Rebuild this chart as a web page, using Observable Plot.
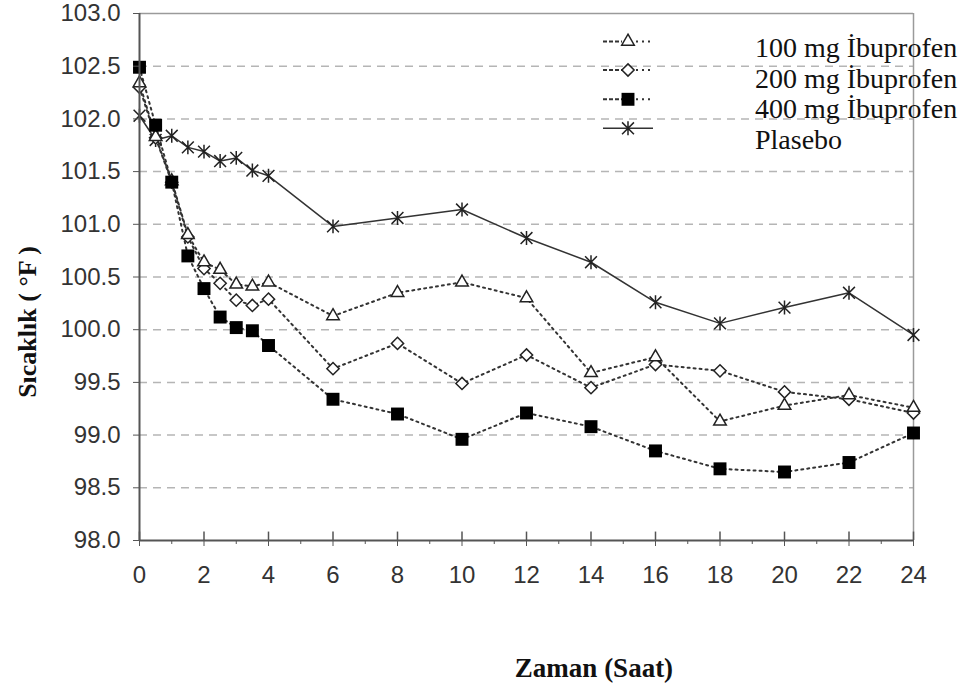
<!DOCTYPE html>
<html>
<head>
<meta charset="utf-8">
<script src="https://cdn.jsdelivr.net/npm/d3@7"></script>
<script src="https://cdn.jsdelivr.net/npm/@observablehq/plot@0.6"></script>
<style>
  body { margin: 0; background: #fff; }
  #wrap { position: relative; width: 967px; height: 691px; }
  #wrap svg.plot { display: block; }
  #legend-samples { position: absolute; left: 0; top: 0; }
  .legtext { position: absolute; left: 755px; font-family: "Liberation Serif", "Times New Roman", serif; font-size: 28px; color: #111; white-space: nowrap; line-height: 1; }
  .atitle { font-family: "Liberation Serif", "Times New Roman", serif; font-weight: bold; fill: #111; }
</style>
</head>
<body>
<div id="wrap"></div>
<script>
// ---- data ----
const hours = [0, 0.5, 1, 1.5, 2, 2.5, 3, 3.5, 4, 6, 8, 10, 12, 14, 16, 18, 20, 22, 24];
const seriesNames = ["100 mg İbuprofen", "200 mg İbuprofen", "400 mg İbuprofen", "Plasebo"];
const mg100 = [102.34, 101.83, 101.41, 100.90, 100.64, 100.57, 100.43, 100.41, 100.45, 100.13, 100.35, 100.45, 100.30, 99.59, 99.74, 99.13, 99.28, 99.38, 99.26];
const mg200 = [102.30, 101.82, 101.40, 100.88, 100.58, 100.44, 100.28, 100.23, 100.29, 99.63, 99.87, 99.49, 99.76, 99.45, 99.67, 99.61, 99.41, 99.34, 99.21];
const mg400 = [102.49, 101.94, 101.40, 100.70, 100.39, 100.12, 100.02, 99.99, 99.85, 99.34, 99.20, 98.96, 99.21, 99.08, 98.85, 98.68, 98.65, 98.74, 99.02];
const placebo = [102.03, 101.80, 101.84, 101.73, 101.69, 101.60, 101.63, 101.51, 101.46, 100.98, 101.06, 101.14, 100.87, 100.64, 100.26, 100.06, 100.21, 100.35, 99.95];
const yTicks = [98.0, 98.5, 99.0, 99.5, 100.0, 100.5, 101.0, 101.5, 102.0, 102.5, 103.0];
const xMajor = [0, 2, 4, 6, 8, 10, 12, 14, 16, 18, 20, 22, 24];
const xMinor = [1, 3, 5, 7, 9, 11, 13, 15, 17, 19, 21, 23];
const yTitle = "Sıcaklık ( °F )";
const xTitle = "Zaman (Saat)";

const toRows = (vals) => hours.map((h, i) => ({hour: h, temp: vals[i]}));
const d100 = toRows(mg100), d200 = toRows(mg200), d400 = toRows(mg400), dPl = toRows(placebo);

const ink = "#333";
const dotted = {stroke: ink, strokeWidth: 2, strokeDasharray: "2,4"};
const gridTicks = yTicks.filter(v => v > 98 && v < 103);

// star: vertical bar + X (as in the reference)
const starSymbol = {
  draw(ctx, size) {
    const r = Math.sqrt(size) * 0.56;
    const d = r * 0.85;
    ctx.moveTo(0, -r); ctx.lineTo(0, r);
    ctx.moveTo(-d, -d); ctx.lineTo(d, d);
    ctx.moveTo(-d, d); ctx.lineTo(d, -d);
  }
};

const chart = Plot.plot({
  width: 967,
  height: 691,
  marginLeft: 139,
  marginRight: 54,
  marginTop: 13,
  marginBottom: 151,
  style: {fontFamily: "'Liberation Sans', Arial, sans-serif", background: "#fff"},
  x: {domain: [0, 24], axis: null},
  y: {domain: [98, 103], axis: null},
  marks: [
    Plot.ruleY(gridTicks, {stroke: "#b5b5b5", strokeWidth: 1.5, strokeDasharray: "8,6"}),
    Plot.ruleY([103], {stroke: "#9a9a9a", strokeWidth: 1.5}),
    Plot.ruleX([24], {stroke: "#9a9a9a", strokeWidth: 1.5}),
    // lines
    Plot.line(dPl, {x: "hour", y: "temp", stroke: ink, strokeWidth: 1.5}),
    Plot.line(d100, {x: "hour", y: "temp", ...dotted}),
    Plot.line(d200, {x: "hour", y: "temp", ...dotted}),
    Plot.line(d400, {x: "hour", y: "temp", ...dotted}),
    // markers
    Plot.dot(dPl, {x: "hour", y: "temp", symbol: starSymbol, r: 7, stroke: "#222", strokeWidth: 1.5}),
    Plot.dot(d200, {x: "hour", y: "temp", symbol: "diamond2", r: 5.5, fill: "white", stroke: "#222", strokeWidth: 1.5}),
    Plot.dot(d100, {x: "hour", y: "temp", symbol: "triangle2", r: 6, fill: "white", stroke: "#222", strokeWidth: 1.5}),
    Plot.dot(d400, {x: "hour", y: "temp", symbol: "square", r: 7.3, fill: "#000", stroke: "none"}),
    // axes
    Plot.axisY(yTicks, {tickSize: 6, tickPadding: 13, fontSize: 24, tickFormat: d3.format(".1f"), label: null, stroke: "#555", fill: "#333"}),
    Plot.axisX(xMajor, {tickSize: 6, tickPadding: 19, fontSize: 24, label: null, stroke: "#555", fill: "#333"}),
    Plot.axisX(xMinor, {tickSize: 4, tickFormat: () => "", label: null, stroke: "#555"}),
    Plot.ruleX(xMajor, {x: d => d, y1: 98, y2: 98.08, stroke: "#555", strokeWidth: 1.5}),
    Plot.ruleX([0], {stroke: "#555", strokeWidth: 2}),
    Plot.ruleY([98], {stroke: "#555", strokeWidth: 2})
  ]
});
const wrap = document.getElementById("wrap");
wrap.appendChild(chart);

// axis titles
const csvg = d3.select(chart);
csvg.append("text").attr("class", "atitle")
  .attr("transform", "translate(36,322) rotate(-90)")
  .attr("text-anchor", "middle").attr("font-size", 26).text(yTitle);
csvg.append("text").attr("class", "atitle")
  .attr("x", 594).attr("y", 677)
  .attr("text-anchor", "middle").attr("font-size", 27).text(xTitle);

// ---- legend (overlay) ----
const legendY = [41.5, 70, 99.3, 128.3];
const textY = [48, 78.5, 109, 140];
const symbols = [d3.symbolTriangle2, d3.symbolDiamond2, d3.symbolSquare, starSymbol];
const symSizes = [113, 95, 167, 156];
const svg = d3.select(wrap).append("svg").attr("id", "legend-samples").attr("width", 967).attr("height", 200);
seriesNames.forEach((name, i) => {
  const g = svg.append("g").attr("transform", `translate(0,${legendY[i]})`);
  const isPl = i === 3;
  if (isPl) {
    g.append("line").attr("x1", 603).attr("x2", 653).attr("y1", 0).attr("y2", 0)
      .attr("stroke", ink).attr("stroke-width", 1.5);
  } else {
    g.append("line").attr("x1", 603).attr("x2", 622).attr("y1", 0).attr("y2", 0)
      .attr("stroke", ink).attr("stroke-width", 2).attr("stroke-dasharray", "4,2");
    g.append("line").attr("x1", 636).attr("x2", 653).attr("y1", 0).attr("y2", 0)
      .attr("stroke", ink).attr("stroke-width", 2).attr("stroke-dasharray", "2,4");
  }
  const filled = i === 2;
  g.append("path").attr("transform", "translate(628,0)")
    .attr("d", d3.symbol(symbols[i], symSizes[i])())
    .attr("fill", filled ? "#000" : (isPl ? "none" : "white"))
    .attr("stroke", filled ? "none" : "#222").attr("stroke-width", 1.5);
  const t = document.createElement("div");
  t.className = "legtext";
  t.textContent = name;
  t.style.top = (textY[i] - 14) + "px";
  wrap.appendChild(t);
});
</script>
</body>
</html>
